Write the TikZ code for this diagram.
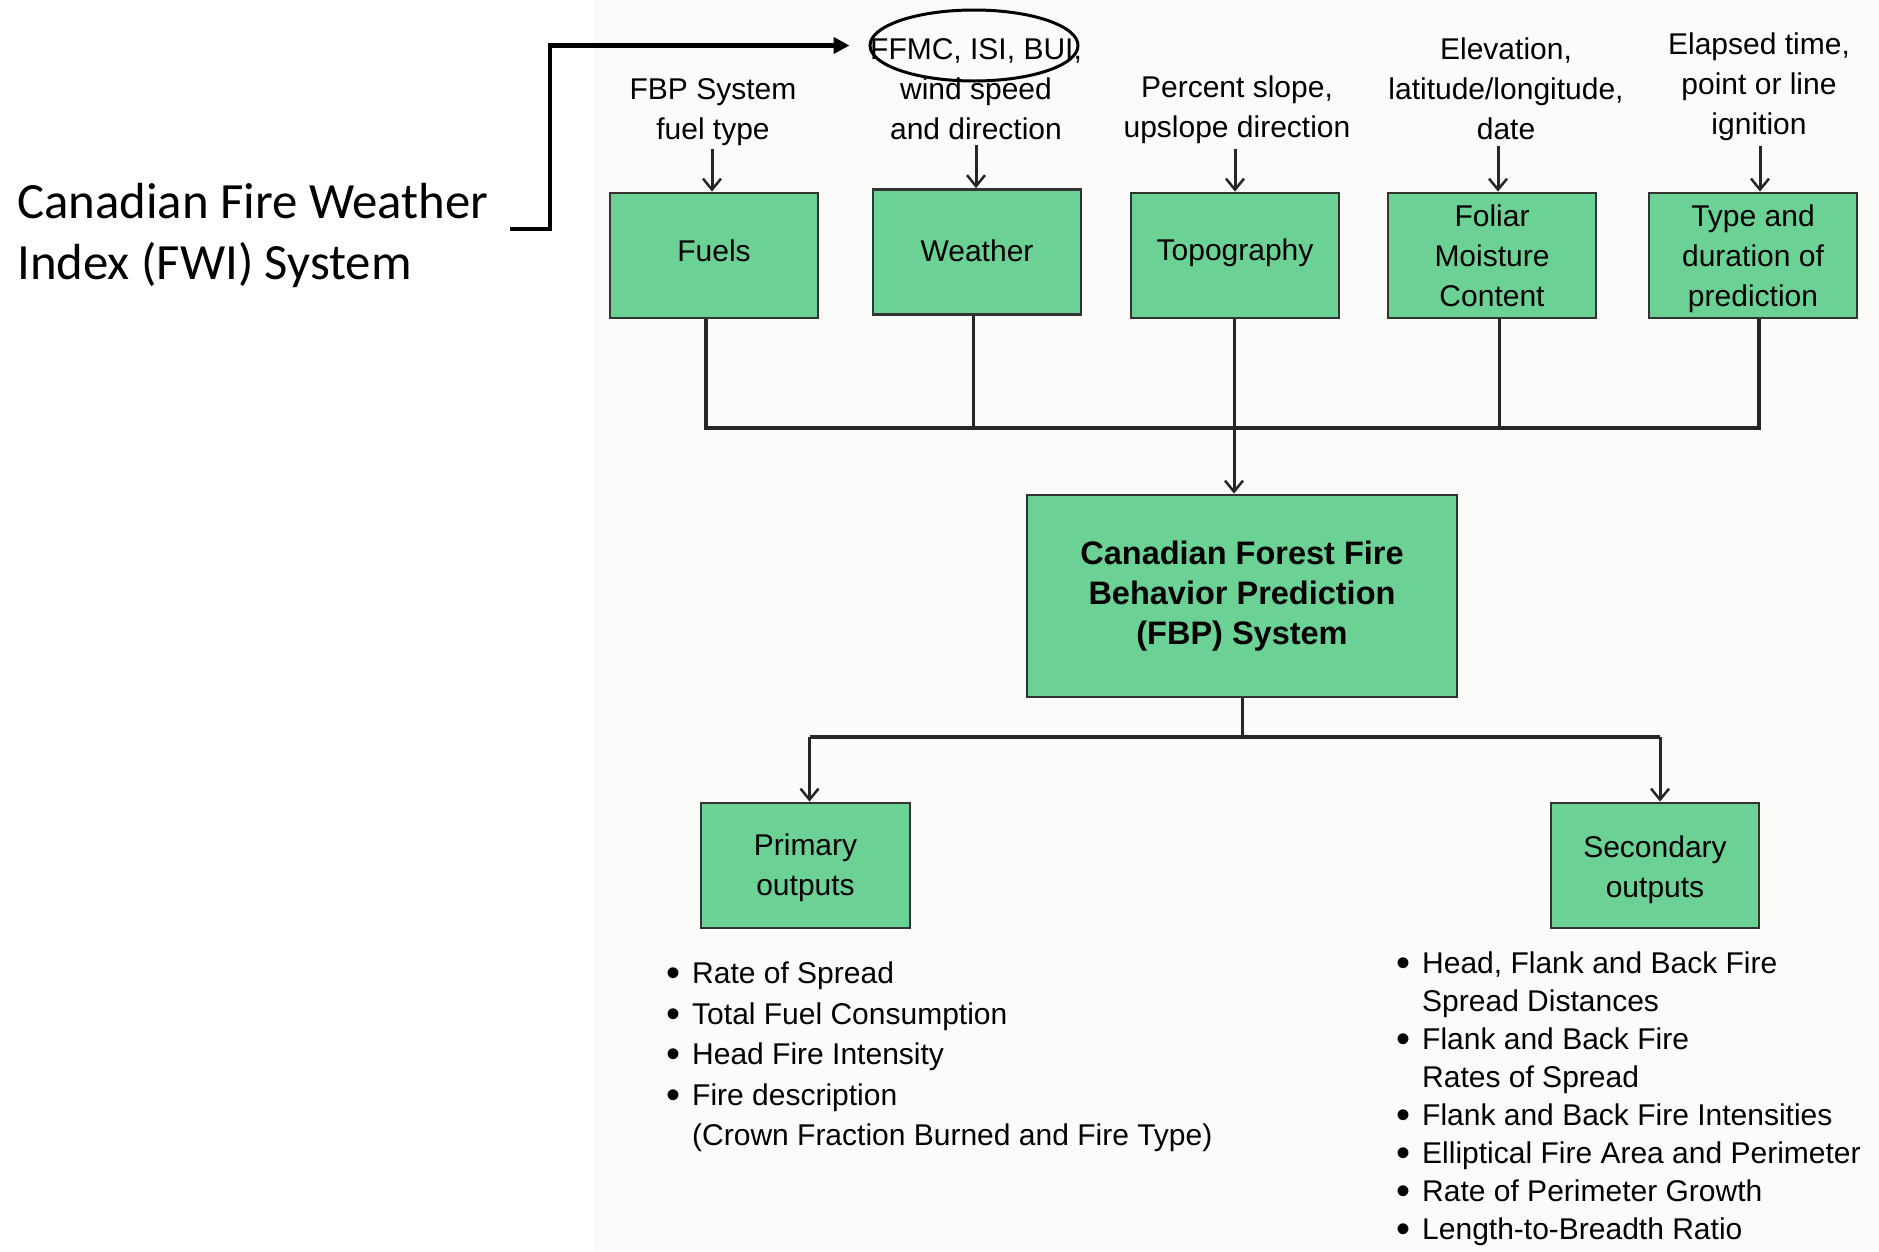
\documentclass[tikz,border=0pt]{standalone}
\usepackage{fontspec}
\setmainfont{Liberation Sans}
\newfontfamily\fwifont{Carlito}
\usetikzlibrary{arrows.meta,shapes.geometric}
\definecolor{boxgreen}{RGB}{108,209,149}
\definecolor{panel}{RGB}{251,251,249}
\newcommand\lbul{\makebox[25pt][l]{\hspace*{-1pt}\raisebox{-3pt}{\fontsize{40}{40}\selectfont\textbullet}}}
\newcommand\lind{\hspace*{25pt}}
\newcommand\shiftline[2]{\raisebox{#1}[\height][\depth]{#2}}
\begin{document}
\begin{tikzpicture}[x=1pt,y=-1pt,
  box/.style={draw=black!80, line width=2.8pt, fill=boxgreen, minimum width=208pt,
    minimum height=125pt, inner sep=0pt, align=center, font=\fontsize{30}{40}\selectfont},
  lbl/.style={align=center, inner sep=0pt, font=\fontsize{30}{40}\selectfont},
  conn/.style={line width=3pt, black!85},
  arr/.style={conn, -{Straight Barb[length=11pt,width=18pt,line width=2.5pt]}},
  bigarr/.style={line width=4.5pt, -{Triangle[length=16pt,width=16pt]}}
]
\useasboundingbox (0,0) rectangle (1879,1251);
\fill[panel] (594,0) rectangle (1879,1251);

% left text and bracket
\node[anchor=west, align=left, inner sep=0pt, font=\fwifont\fontsize{50.8}{61}\selectfont] (fwi) at (17,235) {Canadian Fire Weather\\Index (FWI) System};
\node[draw, ellipse, line width=3pt, minimum width=208pt, minimum height=71pt, inner sep=0pt] (ell) at (974,45.5) {};
\coordinate (brk) at (510,229);
\draw[bigarr, shorten >=19pt] (brk) -- ++(40,0) |- (ell.west);

% input boxes
\node[box] (fuels) at (714,255.5) {\shiftline{5pt}{Fuels}};
\node[box] (weather) at (977,252) {\shiftline{1pt}{Weather}};
\node[box] (topo) at (1235,255.5) {\shiftline{3pt}{Topography}};
\node[box] (foliar) at (1492,255.5) {Foliar\\Moisture\\Content};
\node[box] (typ) at (1753,255.5) {\shiftline{-3pt}{Type and}\\\shiftline{-3pt}{duration of}\\\shiftline{-3pt}{prediction}};

% input labels
\node[lbl] (lfuel) at (713,112.5) {FBP System\\fuel type};
\node[lbl] (lweather) at (976,89) {FFMC, ISI, BUI,\\wind speed\\and direction};
\node[lbl] (ltopo) at (1237,110) {Percent slope,\\upslope direction};
\node[lbl] (lfoliar) at (1506,89) {Elevation,\\latitude/longitude,\\date};
\node[lbl] (ltype) at (1759,87) {Elapsed time,\\point or line\\ignition};

\draw[arr] ([xshift=-2pt,yshift=43pt]fuels.north) -- ([xshift=-2pt]fuels.north);
\draw[arr] ([xshift=-1pt,yshift=43pt]weather.north) -- ([xshift=-1pt]weather.north);
\draw[arr] ([yshift=43pt]topo.north) -- (topo.north);
\draw[arr] ([xshift=6pt,yshift=46pt]foliar.north) -- ([xshift=6pt]foliar.north);
\draw[arr] ([xshift=7pt,yshift=46pt]typ.north) -- ([xshift=7pt]typ.north);

% central box
\node[box, minimum width=430pt, minimum height=202pt, font=\bfseries\fontsize{32.5}{40}\selectfont] (fbp) at (1242,596) {Canadian Forest Fire\\Behavior Prediction\\(FBP) System};

\coordinate (bus) at (0,428);
\draw[conn, line width=3.5pt] ([xshift=-8pt]fuels.south) -- ([xshift=-8pt]fuels.south |- bus) -- ([xshift=6pt]typ.south |- bus) -- ([xshift=6pt]typ.south);
\draw[conn] ([xshift=-4pt]weather.south) -- ([xshift=-4pt]weather.south |- bus);
\draw[conn] ([xshift=-1pt]topo.south) -- ([xshift=-1pt]topo.south |- bus);
\draw[conn] ([xshift=7pt]foliar.south) -- ([xshift=7pt]foliar.south |- bus);
\draw[arr] ([xshift=-1pt]topo.south |- bus) -- ([xshift=-1pt]topo.south |- fbp.north);

% outputs
\node[box, minimum width=209pt] (prim) at (805.5,865.5) {\shiftline{-2pt}{Primary}\\\shiftline{-2pt}{outputs}};
\node[box] (sec) at (1655,865.5) {\shiftline{-4pt}{Secondary}\\\shiftline{-4pt}{outputs}};

\coordinate (split) at (0,737);
\draw[conn] (fbp.south) -- (fbp.south |- split);
\draw[conn, line width=3.5pt] ([xshift=4pt]prim.north |- split) -- ([xshift=5pt]sec.north |- split);
\draw[arr] ([xshift=4pt]prim.north |- split) -- ([xshift=4pt]prim.north);
\draw[arr] ([xshift=5pt]sec.north |- split) -- ([xshift=5pt]sec.north);

\node[lbl, align=left, anchor=west, font=\fontsize{30}{40.5}\selectfont] (plist) at (667,1057)
  {\lbul Rate of Spread\\ \lbul Total Fuel Consumption\\ \lbul Head Fire Intensity\\ \lbul Fire description\\ \lind (Crown Fraction Burned and Fire Type)};
\node[lbl, align=left, anchor=west, font=\fontsize{30}{38}\selectfont] (slist) at (1397,1099)
  {\lbul Head, Flank and Back Fire\\ \lind Spread Distances\\ \lbul Flank and Back Fire\\ \lind Rates of Spread\\ \lbul Flank and Back Fire Intensities\\ \lbul Elliptical Fire Area and Perimeter\\ \lbul Rate of Perimeter Growth\\ \lbul Length-to-Breadth Ratio};
\end{tikzpicture}
\end{document}
